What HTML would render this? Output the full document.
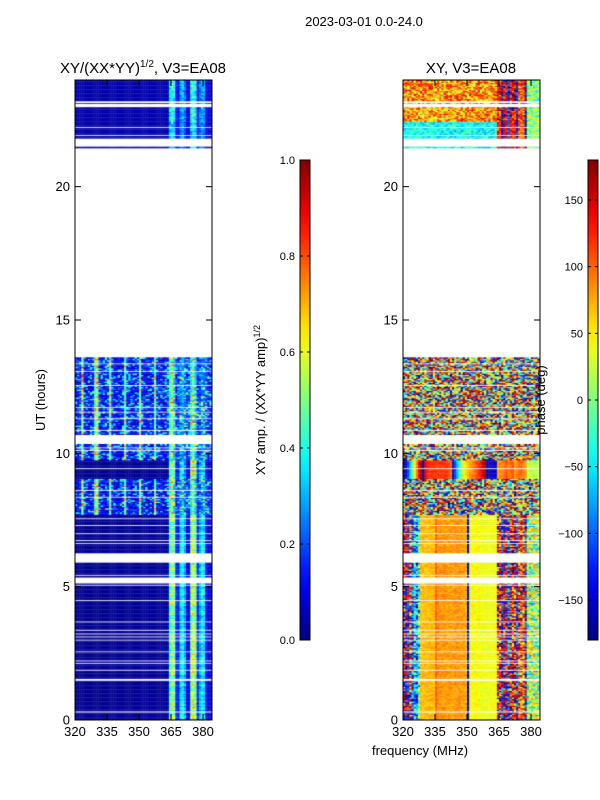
<!DOCTYPE html>
<html><head><meta charset="utf-8">
<style>
body{margin:0;background:#fff;width:600px;height:800px;overflow:hidden;font-family:"Liberation Sans",sans-serif;}
#wrap{position:relative;width:600px;height:800px;}
canvas{position:absolute;}
svg{position:absolute;left:0;top:0;}
</style></head>
<body><div id="wrap">
<canvas id="hmA" width="137" height="640" style="left:75px;top:80px"></canvas>
<canvas id="hmP" width="137" height="640" style="left:403px;top:80px"></canvas>
<svg id="ov" width="600" height="800"></svg>
</div>
<script>
// ---- data ----
const freqMin = 320, freqMax = 384.2;
const hourMin = 0, hourMax = 24;
const xTicks = [320, 335, 350, 365, 380];
const yTicks = [0, 5, 10, 15, 20];
const ampTicks = [0.0, 0.2, 0.4, 0.6, 0.8, 1.0];
const phaseTicks = [-150, -100, -50, 0, 50, 100, 150];
// time segments: start hour, end hour, type
const segStart = [0, 7.7, 9.06, 9.74, 10.7, 21.46, 22.45, 22.9];
const segEnd   = [7.7, 9.06, 9.74, 10.35, 13.6, 22.45, 22.9, 24.0];
const segType  = ['q', 'n', 'g', 'n', 'n', 'tc', 'tw', 'tw'];
// flagged (white) intervals in hours
const flagStart = [0.28,1.47,1.85,2.11,2.2,2.54,2.98,3.1,3.21,3.35,3.66,4.47,5.04,5.12,5.41,5.9,6.6,6.72,6.97,7.28,7.53,8.34,8.59,9.41,10.09,10.19,10.84,11.28,11.53,11.71,12.53,13.06,13.34,21.5,21.9,22.2,22.98,23.13];
const flagEnd   = [0.32,1.54,1.88,2.14,2.23,2.57,3.01,3.13,3.24,3.38,3.69,4.5,5.07,5.34,5.44,6.25,6.63,6.75,7.0,7.31,7.56,8.37,8.62,9.44,10.12,10.22,10.87,11.31,11.56,11.74,12.56,13.09,13.37,21.8,21.93,22.23,23.1,23.2];
// amplitude column profiles (320..383 MHz, 1 MHz channels)
const ampQuiet = [0.015,0.015,0.015,0.015,0.015,0.015,0.015,0.015,0.015,0.015,0.015,0.015,0.015,0.015,0.015,0.015,0.02,0.02,0.02,0.02,0.02,0.02,0.02,0.02,0.02,0.02,0.02,0.02,0.02,0.02,0.025,0.025,0.025,0.025,0.025,0.025,0.025,0.025,0.025,0.025,0.025,0.025,0.03,0.05,0.45,0.55,0.5,0.16,0.14,0.35,0.4,0.3,0.12,0.1,0.5,0.6,0.5,0.16,0.3,0.38,0.35,0.13,0.08,0.08];
const ampNoisy = [0.08,0.1,0.15,0.6,0.15,0.08,0.08,0.1,0.15,0.5,0.6,0.15,0.08,0.08,0.1,0.15,0.55,0.15,0.08,0.08,0.08,0.1,0.15,0.5,0.15,0.08,0.08,0.08,0.1,0.15,0.55,0.15,0.08,0.08,0.08,0.1,0.15,0.5,0.15,0.08,0.08,0.08,0.1,0.15,0.45,0.6,0.35,0.15,0.15,0.25,0.3,0.25,0.15,0.18,0.4,0.55,0.35,0.15,0.18,0.25,0.25,0.18,0.12,0.12];
// phase column profile (deg) for quiet segments
const phaseQuiet = [150,170,-170,120,-120,-60,-90,-40,70,70,70,70,70,70,70,100,85,85,85,85,80,80,80,80,85,85,85,80,80,75,-150,40,45,45,45,45,40,40,40,40,40,40,40,40,120,120,-150,150,150,-120,130,130,130,-140,100,100,100,-160,0,0,0,0,0,0];
// phase profile for the 9.1-9.7 h wrap segment
const phaseWrap = [-170,-150,-110,-60,-10,40,90,140,170,-170,150,130,120,120,120,120,120,120,120,120,120,110,100,-150,-110,-70,-30,10,40,60,70,80,90,100,110,120,130,150,170,-170,-150,-150,-150,-150,80,90,90,100,110,90,100,110,80,90,100,100,90,80,30,20,20,20,20,20];
// texture tables
const ampTex = [1.0,0.8,1.2,0.9,1.3,0.7,1.1,1.0,0.75,1.25,0.9,1.15,0.85];
const noiseAmp = [0.0,0.05,0.1,0.5,0.15,0.0,0.3,0.05,0.0,0.2,0.6,0.1,0.0];
const noisePhase = [120,-150,40,-30,170,-90,10,80,-170,150,-60,30,100,-120,60,-10,160];
// ---- helpers ----
function jet(v){v=Math.max(0,Math.min(1,v));const c=x=>Math.round(255*Math.max(0,Math.min(1,x)));
return `rgb(${c(1.5-Math.abs(4*v-3))},${c(1.5-Math.abs(4*v-2))},${c(1.5-Math.abs(4*v-1))})`;}
function hsh(a,b,s){let h=(a*374761393+b*668265263+s*982451653)|0;h=(h^(h>>>13))*1274126177|0;return (h^(h>>>16))>>>0;}
const W=137,H=640;
const xS=f=>(f-freqMin)/(freqMax-freqMin)*W;
const yS=h=>H-(h-hourMin)/(hourMax-hourMin)*H;
const nRows=480, dh=(hourMax-hourMin)/nRows;
function segAt(h){for(let i=0;i<segStart.length;i++)if(h>=segStart[i]&&h<segEnd[i])return segType[i];return null;}
const ca=document.getElementById('hmA').getContext('2d');
const cp=document.getElementById('hmP').getContext('2d');
for(let r=0;r<nRows;r++){
  const h0=hourMin+r*dh, hc=h0+dh/2, t=segAt(hc);
  if(!t)continue;
  const y0=yS(h0+dh), hh=yS(h0)-y0;
  const rowTex=ampTex[hsh(r,0,1)%ampTex.length];
  for(let c=0;c<ampQuiet.length;c++){
    const x0=xS(freqMin+c), ww=xS(freqMin+c+1)-x0+0.3;
    const tex=ampTex[hsh(r,c,2)%ampTex.length];
    const nz=noiseAmp[hsh(r,c,3)%noiseAmp.length];
    const np=noisePhase[hsh(r,c,4)%noisePhase.length];
    let a,p;
    if(t==='q'){a=ampQuiet[c]*(0.5*tex+0.5*rowTex);p=phaseQuiet[c]+(c<8||c>43?np*0.5:(tex-1)*40);}
    else if(t==='g'){a=ampQuiet[c]*tex;p=phaseWrap[c]+(tex-1)*30;}
    else if(t==='n'){a=ampNoisy[c]*0.8+nz*0.6;p=np;}
    else if(t==='tw'){a=ampQuiet[c]*tex*0.7+0.03;p=(c>43?phaseQuiet[c]:75)+np*0.35;}
    else {a=ampQuiet[c]*tex*0.6+0.03;p=(c>43?phaseQuiet[c]:-45)+np*0.2;}
    if(p>180)p-=360; if(p<-180)p+=360;
    ca.fillStyle=jet(a); ca.fillRect(x0,y0,ww,hh+0.3);
    cp.fillStyle=jet((p+180)/360); cp.fillRect(x0,y0,ww,hh+0.3);
  }
}
[ca,cp].forEach(ctx=>{ctx.fillStyle='#fff';for(let i=0;i<flagStart.length;i++){const y0=yS(flagEnd[i]);ctx.fillRect(0,y0,W,yS(flagStart[i])-y0);}});
// ---- overlay ----
const NS='http://www.w3.org/2000/svg', ov=document.getElementById('ov');
function el(tag,attrs,txt){const e=document.createElementNS(NS,tag);for(const k in attrs)e.setAttribute(k,attrs[k]);if(txt!==undefined)e.textContent=txt;ov.appendChild(e);return e;}
const defs=el('defs',{});
function grad(id){const g=document.createElementNS(NS,'linearGradient');g.setAttribute('id',id);g.setAttribute('x1','0');g.setAttribute('y1','1');g.setAttribute('x2','0');g.setAttribute('y2','0');
for(let i=0;i<=20;i++){const s=document.createElementNS(NS,'stop');s.setAttribute('offset',i/20);s.setAttribute('stop-color',jet(i/20));g.appendChild(s);}defs.appendChild(g);}
grad('jetg');
function panel(px,name,title,tx){
  const r=el('rect',{x:px,y:80,width:W,height:H,fill:'none',stroke:'#000','stroke-width':1});
  
  
  xTicks.forEach(f=>{const x=px+xS(f);
    el('line',{x1:x,y1:720,x2:x,y2:714,stroke:'#000'});el('line',{x1:x,y1:80,x2:x,y2:86,stroke:'#000'});
    const t=el('text',{x:x,y:736,'font-size':13,'text-anchor':'middle'},f);
    
    });
  yTicks.forEach(h=>{const y=80+yS(h);
    el('line',{x1:px,y1:y,x2:px+6,y2:y,stroke:'#000'});el('line',{x1:px+W,y1:y,x2:px+W-6,y2:y,stroke:'#000'});
    const t=el('text',{x:px-5,y:y+4.5,'font-size':13,'text-anchor':'end'},h);
    
    });
  const tt=el('text',{x:tx,y:73,'font-size':15,'text-anchor':'middle'});
  tt.innerHTML=title;
  
  
}
panel(75,'amplitude-panel','XY/(XX*YY)<tspan font-size="10" dy="-6">1/2</tspan><tspan dy="6">, V3=EA08</tspan>',143);
panel(403,'phase-panel','XY, V3=EA08',471);
function cbar(x,name,ticks,vmin,vmax,fmt){
  const r=el('rect',{x:x,y:160,width:10,height:480,fill:'url(#jetg)',stroke:'#000'});
  
  
  ticks.forEach(v=>{const y=640-(v-vmin)/(vmax-vmin)*480;
    el('line',{x1:x,y1:y,x2:x+3,y2:y,stroke:'#000'});el('line',{x1:x+10,y1:y,x2:x+7,y2:y,stroke:'#000'});
    const t=el('text',{x:x-5,y:y+4,'font-size':11,'text-anchor':'end'},fmt(v));
    
    });
}
cbar(300,'amplitude-colorbar',ampTicks,0,1,v=>v.toFixed(1));
cbar(588,'phase-colorbar',phaseTicks,-180,180,v=>String(v).replace('-','\u2212'));
let t;
t=el('text',{x:364,y:26,'font-size':13,'text-anchor':'middle'},'2023-03-01 0.0-24.0');


t=el('text',{x:420,y:755,'font-size':13,'text-anchor':'middle'},'frequency (MHz)');


t=el('text',{x:45,y:400,'font-size':13,'text-anchor':'middle',transform:'rotate(-90 45 400)'},'UT (hours)');


t=el('text',{x:265,y:400,'font-size':13,'text-anchor':'middle',transform:'rotate(-90 265 400)'});
t.innerHTML='XY amp. / (XX*YY amp)<tspan font-size="9" dy="-5">1/2</tspan>';


t=el('text',{x:545,y:400,'font-size':13,'text-anchor':'middle',transform:'rotate(-90 545 400)'},'phase (deg)');


</script>
</body></html>
